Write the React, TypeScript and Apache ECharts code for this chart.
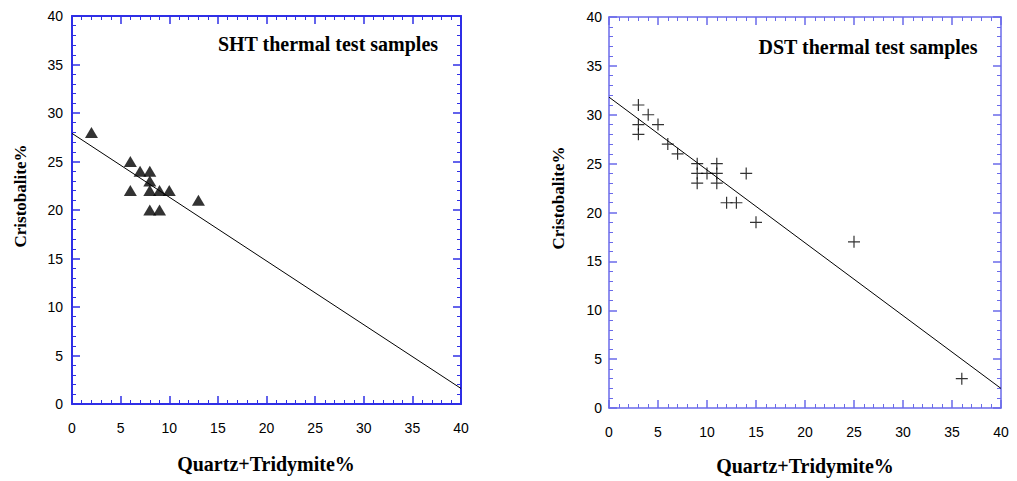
import React, { useEffect, useRef } from "react";
import * as echarts from "echarts";

// SHT thermal test samples
const shtX = [2, 6, 7, 8, 8, 6, 8, 9, 10, 8, 9, 13];
const shtY = [28, 25, 24, 24, 23, 22, 22, 22, 22, 20, 20, 21];
const shtFitX = [0, 40];
const shtFitY = [27.9, 1.6];

// DST thermal test samples
const dstX = [3, 4, 3, 5, 3, 6, 7, 9, 9, 10, 11, 11, 9, 11, 12, 13, 14, 15, 25, 36];
const dstY = [31, 30, 29, 29, 28, 27, 26, 25, 24, 24, 25, 24, 23, 23, 21, 21, 24, 19, 17, 3];
const dstFitX = [0, 40];
const dstFitY = [31.8, 2.0];

const axisMin = 0;
const axisMax = 40;
const axisStep = 5;

const titles = ["SHT thermal test samples", "DST thermal test samples"];
const xName = "Quartz+Tridymite%";
const yName = "Cristobalite%";

const zip = (a: number[], b: number[]) => a.map((v, i) => [v, b[i]]);

function axisBase(gridIndex: number, color: string, lineWidth: number) {
  return {
    gridIndex,
    type: "value",
    min: axisMin,
    max: axisMax,
    interval: axisStep,
    axisLine: { show: true, onZero: false, lineStyle: { color, width: lineWidth } },
    axisTick: { show: true, inside: true, length: 8, lineStyle: { color, width: 1.5 } },
    minorTick: { show: true, splitNumber: 5, length: 4, lineStyle: { color, width: 1 } },
    splitLine: { show: false },
    minorSplitLine: { show: false },
  };
}

const labelStyle = {
  color: "#000",
  fontFamily: "Liberation Sans",
  fontSize: 14,
};

export default function App() {
  const ref = useRef<HTMLDivElement>(null);
  useEffect(() => {
    document.body.style.margin = "0";
    if (!ref.current) return;
    const chart = echarts.init(ref.current, null, { renderer: "svg" });
    const c1 = "#2f2fe6";
    const c2 = "#6a6aea";
    const xAxes: any[] = [];
    const yAxes: any[] = [];
    [[0, c1, 2], [1, c2, 1.5]].forEach(([g, c, w]: any) => {
      xAxes.push({ ...axisBase(g, c, w), position: "bottom", axisLabel: { ...labelStyle, margin: 17 } });
      xAxes.push({ ...axisBase(g, c, w), position: "top", axisLabel: { show: false } });
      yAxes.push({ ...axisBase(g, c, w), position: "left", axisLabel: { ...labelStyle, margin: g === 0 ? 9 : 7 } });
      yAxes.push({ ...axisBase(g, c, w), position: "right", axisLabel: { show: false } });
    });
    const titleFont = 'bold 20px "Liberation Serif"';
    const xNameFont = 'bold 20px "Liberation Serif"';
    const yNameFont = 'bold 17px "Liberation Serif"';
    chart.setOption({
      animation: false,
      backgroundColor: "#fff",
      grid: [
        { left: 72, top: 16, width: 389, height: 388 },
        { left: 609, top: 17, width: 392, height: 391 },
      ],
      xAxis: xAxes,
      yAxis: yAxes,
      series: [
        {
          type: "scatter",
          xAxisIndex: 0,
          yAxisIndex: 0,
          data: zip(shtX, shtY),
          symbol: "triangle",
          symbolSize: [13, 11],
          itemStyle: { color: "#000" },
          z: 3,
        },
        {
          type: "line",
          xAxisIndex: 0,
          yAxisIndex: 0,
          data: zip(shtFitX, shtFitY),
          showSymbol: false,
          lineStyle: { color: "#000", width: 1 },
          z: 2,
        },
        {
          type: "scatter",
          xAxisIndex: 2,
          yAxisIndex: 2,
          data: zip(dstX, dstY),
          symbol: "path://M0,6L12,6M6,0L6,12",
          symbolSize: 12,
          itemStyle: { color: "none", borderColor: "#000", borderWidth: 1.2 },
          z: 3,
        },
        {
          type: "line",
          xAxisIndex: 2,
          yAxisIndex: 2,
          data: zip(dstFitX, dstFitY),
          showSymbol: false,
          lineStyle: { color: "#000", width: 1 },
          z: 2,
        },
      ],
      graphic: [
        { type: "text", x: 328, y: 44, style: { text: titles[0], font: titleFont, fill: "#000", align: "center", verticalAlign: "middle" } },
        { type: "text", x: 868, y: 47, style: { text: titles[1], font: titleFont, fill: "#000", align: "center", verticalAlign: "middle" } },
        { type: "text", x: 266, y: 464, style: { text: xName, font: xNameFont, fill: "#000", align: "center", verticalAlign: "middle" } },
        { type: "text", x: 805, y: 466, style: { text: xName, font: xNameFont, fill: "#000", align: "center", verticalAlign: "middle" } },
        { type: "text", x: 20, y: 196, rotation: Math.PI / 2, style: { text: yName, font: yNameFont, fill: "#000", align: "center", verticalAlign: "middle" } },
        { type: "text", x: 558, y: 198, rotation: Math.PI / 2, style: { text: yName, font: yNameFont, fill: "#000", align: "center", verticalAlign: "middle" } },
      ],
    });
    return () => chart.dispose();
  }, []);
  return <div ref={ref} style={{ width: 1017, height: 481 }} />;
}
